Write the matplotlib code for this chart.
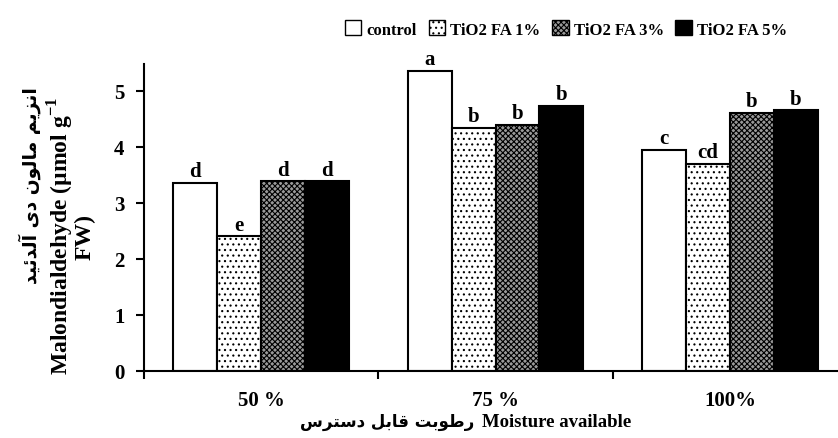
import matplotlib
matplotlib.use("Agg")
import matplotlib.pyplot as plt
from matplotlib.patches import Patch
import numpy as np

# ---------------- data ----------------
categories = ["50 %", "75 %", "100%"]
series_names = ["control", "TiO2 FA 1%", "TiO2 FA 3%", "TiO2 FA 5%"]
control = [3.36, 5.35, 3.94]
fa1 = [2.40, 4.34, 3.70]
fa3 = [3.38, 4.39, 4.61]
fa5 = [3.38, 4.73, 4.65]
letters_control = ["d", "a", "c"]
letters_fa1 = ["e", "b", "cd"]
letters_fa3 = ["d", "b", "b"]
letters_fa5 = ["d", "b", "b"]
yticks = [0, 1, 2, 3, 4, 5]

# ---------------- persian shaping helper ----------------
FORMS = {
    '\u0627': ('\uFE8D', '\uFE8E', None, None),
    '\u0622': ('\uFE81', '\uFE82', None, None),
    '\u062F': ('\uFEA9', '\uFEAA', None, None),
    '\u0631': ('\uFEAD', '\uFEAE', None, None),
    '\u0632': ('\uFEAF', '\uFEB0', None, None),
    '\u0648': ('\uFEED', '\uFEEE', None, None),
    '\u0646': ('\uFEE5', '\uFEE6', '\uFEE7', '\uFEE8'),
    '\u0645': ('\uFEE1', '\uFEE2', '\uFEE3', '\uFEE4'),
    '\u0644': ('\uFEDD', '\uFEDE', '\uFEDF', '\uFEE0'),
    '\u0626': ('\uFE89', '\uFE8A', '\uFE8B', '\uFE8C'),
    '\u0637': ('\uFEC1', '\uFEC2', '\uFEC3', '\uFEC4'),
    '\u0628': ('\uFE8F', '\uFE90', '\uFE91', '\uFE92'),
    '\u062A': ('\uFE95', '\uFE96', '\uFE97', '\uFE98'),
    '\u0642': ('\uFED5', '\uFED6', '\uFED7', '\uFED8'),
    '\u0633': ('\uFEB1', '\uFEB2', '\uFEB3', '\uFEB4'),
    '\u06CC': ('\uFEEF', '\uFEF0', '\uFEF3', '\uFEF4'),
}


def shape_fa(s):
    out = []
    for i, ch in enumerate(s):
        if ch not in FORMS:
            out.append(ch)
            continue
        prev = s[i - 1] if i > 0 else None
        nxt = s[i + 1] if i + 1 < len(s) else None
        jp = prev in FORMS and FORMS[prev][2] is not None
        jn = FORMS[ch][2] is not None and nxt in FORMS
        f = FORMS[ch]
        if jp and jn:
            out.append(f[3])
        elif jp:
            out.append(f[1])
        elif jn:
            out.append(f[2])
        else:
            out.append(f[0])
    return "".join(out)[::-1]


ylabel_fa = "انزیم مالون دی آلدئید"
xlabel_fa = "رطوبت قابل دسترس"

# ---------------- style ----------------
plt.rcParams['font.family'] = ['Liberation Serif', 'DejaVu Sans']
plt.rcParams['font.weight'] = 'bold'
plt.rcParams['mathtext.fontset'] = 'custom'
plt.rcParams['mathtext.rm'] = 'Liberation Serif:bold'
plt.rcParams['mathtext.bf'] = 'Liberation Serif:bold'
plt.rcParams['hatch.linewidth'] = 0.8

W, H = 838, 439
fig = plt.figure(figsize=(W / 100, H / 100), dpi=100)
ax_left = 143.9 / W
ax_bottom = (H - 371.7) / H
ax_h = (371.7 - 65) / H
ax = fig.add_axes([ax_left, ax_bottom, 1 - ax_left, ax_h])

cat_px = 234.4
ax.set_xlim(0, (W - 143.9) / cat_px)
ax.set_ylim(0, (371.7 - 65) / 56.0)

x = np.arange(len(categories)) + 0.5
bw = 0.187
series = [control, fa1, fa3, fa5]
letters = [letters_control, letters_fa1, letters_fa3, letters_fa5]
styles = [
    dict(facecolor='white', hatch=None),
    dict(facecolor='white', hatch='...'),
    dict(facecolor='#9a9a9a', hatch='xxxxxx'),
    dict(facecolor='black', hatch=None),
]
for k, (vals, st) in enumerate(zip(series, styles)):
    pos = x + (k - 1.5) * bw
    ax.bar(pos, vals, width=bw, edgecolor='black', linewidth=1.5,
           facecolor=st['facecolor'], hatch=st['hatch'], zorder=2)
    for p, v, lab in zip(pos, vals, letters[k]):
        ax.text(p, v + 0.03, lab, ha='center', va='bottom', fontsize=15,
                fontweight='bold')

for s in ['top', 'right']:
    ax.spines[s].set_visible(False)
ax.spines['left'].set_linewidth(1.5)
ax.spines['bottom'].set_linewidth(1.5)

ax.set_yticks(yticks)
ax.set_yticklabels([str(t) for t in yticks], fontsize=15, fontweight='bold')
ax.tick_params(axis='y', direction='out', length=6, width=1.5, pad=8)
ax.set_xticks([0, 1, 2])
ax.set_xticklabels([])
ax.tick_params(axis='x', which='major', direction='out', length=6, width=1.5)
ax.set_xticks(x, minor=True)
ax.set_xticklabels(categories, minor=True, fontsize=15, fontweight='bold')
ax.tick_params(axis='x', which='minor', length=0, pad=14)

# y label (three lines)
fig.text(30 / W, 1 - 186 / H, shape_fa(ylabel_fa), rotation=90, ha='center',
         va='center', fontsize=13.5, fontweight='bold', family='DejaVu Sans')
fig.text(61 / W, 1 - 236 / H, 'Malondialdehyde (µmol g$^{-1}$',
         rotation=90, ha='center', va='center', fontsize=17, fontweight='bold')
fig.text(85 / W, 1 - 237 / H, 'FW)', rotation=90, ha='center', va='center',
         fontsize=17, fontweight='bold')

# x label: persian part + english part on one baseline
fig.text(474 / W, 1 - 427 / H, shape_fa(xlabel_fa),
         ha='right', va='baseline', fontsize=12, fontweight='bold',
         family='DejaVu Sans')
fig.text(482 / W, 1 - 427 / H, 'Moisture available',
         ha='left', va='baseline', fontsize=13.5, fontweight='bold')

handles = [Patch(facecolor=st['facecolor'], hatch=st['hatch'],
                 edgecolor='black', linewidth=1.0) for st in styles]
fig.legend(handles, series_names, loc='center', ncol=4,
           bbox_to_anchor=(566 / W, 1 - 30 / H), frameon=False,
           prop=dict(family='Liberation Serif', weight='bold', size=12),
           handlelength=1.0, handleheight=1.0, handletextpad=0.3,
           columnspacing=0.7, borderpad=0.2)

fig.savefig('out.png', dpi=100)
